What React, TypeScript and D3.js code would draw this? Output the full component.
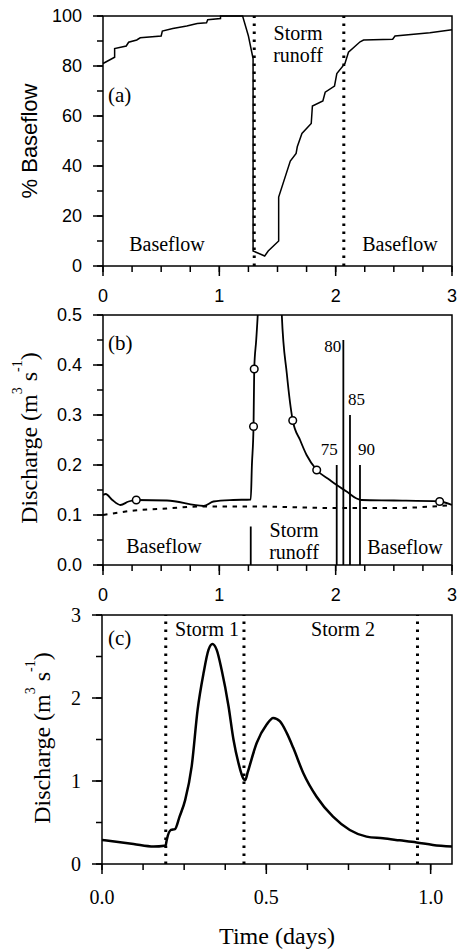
import React from "react";
import * as d3 from "d3";

const W = 457;
const H = 952;
const SERIF = '"Liberation Serif", "Times New Roman", serif';
const SANS = '"Liberation Sans", Arial, sans-serif';

// ---------- Panel (a): % baseflow ----------
const aTime = [0, 0.10, 0.10, 0.20, 0.22, 0.29, 0.32, 0.50, 0.51, 0.60, 0.72, 0.81, 0.89, 0.90, 1.01, 1.01, 1.20, 1.25, 1.29, 1.29, 1.39, 1.42, 1.51, 1.51, 1.61, 1.66, 1.67, 1.71, 1.79, 1.80, 1.89, 1.91, 1.99, 2.01, 2.08, 2.11, 2.21, 2.24, 2.49, 2.51, 2.81, 3.0];
const aPct = [81, 83.5, 87, 88, 89.5, 90.4, 91.3, 92, 94, 95, 96, 97, 97.3, 98.5, 99, 100, 100, 92, 83, 6, 4, 6, 10, 27.6, 42, 45, 47.7, 53, 57, 64, 66, 69.5, 72, 77, 81, 85.5, 89.7, 90.4, 90.7, 92, 93.3, 94.5];
const aBounds = [1.3, 2.07];
const aXTicks = [0, 1, 2, 3];
const aYTicks = [0, 20, 40, 60, 80, 100];

// ---------- Panel (b): discharge ----------
const bTime = [0, 0.023, 0.08, 0.15, 0.22, 0.286, 0.55, 0.866, 0.95, 1.12, 1.27, 1.28, 1.294, 1.30, 1.317, 1.33, 1.36, 1.43, 1.51, 1.537, 1.58, 1.631, 1.694, 1.75, 1.837, 1.95, 2.009, 2.094, 2.18, 2.223, 2.5, 2.894, 3.0];
const bQ = [0.14, 0.142, 0.13, 0.12, 0.127, 0.13, 0.129, 0.118, 0.127, 0.13, 0.131, 0.2, 0.277, 0.392, 0.45, 0.5, 0.7, 2.5, 0.7, 0.5, 0.383, 0.289, 0.25, 0.22, 0.19, 0.17, 0.16, 0.147, 0.133, 0.13, 0.129, 0.127, 0.12];
const bBaseTime = [0, 0.27, 0.55, 0.84, 1.3, 2.0, 2.5, 3.0];
const bBaseQ = [0.10, 0.109, 0.113, 0.117, 0.117, 0.114, 0.114, 0.12];
const bCircTime = [0.286, 1.294, 1.30, 1.631, 1.837, 2.894];
const bCircQ = [0.13, 0.277, 0.392, 0.289, 0.19, 0.127];
const bSampTime = [1.27, 2.009, 2.066, 2.123, 2.209];
const bSampQ = [0.077, 0.2, 0.45, 0.3, 0.2];
const bSampLabel = ["", "75", "80", "85", "90"];
const bXTicks = [0, 1, 2, 3];
const bYTicks = [0, 0.1, 0.2, 0.3, 0.4, 0.5];

// ---------- Panel (c): two storms ----------
const cTime = [0, 0.096, 0.157, 0.19, 0.194, 0.197, 0.21, 0.222, 0.236, 0.253, 0.273, 0.291, 0.309, 0.324, 0.336, 0.349, 0.364, 0.385, 0.4, 0.415, 0.43, 0.436, 0.443, 0.471, 0.501, 0.521, 0.541, 0.562, 0.582, 0.612, 0.653, 0.703, 0.754, 0.805, 0.855, 0.906, 0.957, 1.007, 1.065];
const cQ = [0.29, 0.24, 0.21, 0.22, 0.23, 0.29, 0.41, 0.42, 0.57, 0.77, 1.18, 1.86, 2.30, 2.58, 2.65, 2.58, 2.34, 1.90, 1.50, 1.22, 1.03, 1.01, 1.1, 1.46, 1.68, 1.76, 1.72, 1.58, 1.40, 1.10, 0.81, 0.57, 0.41, 0.33, 0.31, 0.285, 0.26, 0.23, 0.21];
const cBounds = [0.194, 0.432, 0.96];
const cXTicks = [0, 0.5, 1.0];
const cYTicks = [0, 1, 2, 3];

type Scale = d3.ScaleLinear<number, number>;

function range(a: number, b: number, s: number) {
  const out: number[] = [];
  for (let v = a; v <= b + 1e-9; v += s) out.push(+v.toFixed(6));
  return out;
}

function Frame({ x, y }: { x: Scale; y: Scale }) {
  const [x0, x1] = x.range();
  const [y0, y1] = y.range();
  return (
    <rect x={x0} y={y1} width={x1 - x0} height={y0 - y1} fill="none" stroke="#000" strokeWidth={1.5} />
  );
}

function XAxis({ x, y, major, minorStep, fmt, font, size, baseline }: any) {
  const y0 = y.range()[0];
  const [d0, d1] = x.domain();
  const minors = range(d0, d1, minorStep);
  return (
    <g>
      {minors.map((v: number, i: number) => (
        <line key={"m" + i} x1={x(v)} x2={x(v)} y1={y0} y2={y0 + 6} stroke="#000" strokeWidth={1.5} />
      ))}
      {major.map((v: number, i: number) => (
        <g key={"M" + i}>
          <line x1={x(v)} x2={x(v)} y1={y0} y2={y0 + 10} stroke="#000" strokeWidth={1.5} />
          <text x={x(v)} y={baseline} textAnchor="middle" fontFamily={font} fontSize={size} fill="#000">
            {fmt(v)}
          </text>
        </g>
      ))}
    </g>
  );
}

function YAxis({ x, y, major, minorStep, fmt, font, size }: any) {
  const x0 = x.range()[0];
  const [d0, d1] = y.domain();
  const minors = range(d0, d1, minorStep);
  return (
    <g>
      {minors.map((v: number, i: number) => (
        <line key={"m" + i} x1={x0 - 6} x2={x0} y1={y(v)} y2={y(v)} stroke="#000" strokeWidth={1.5} />
      ))}
      {major.map((v: number, i: number) => (
        <g key={"M" + i}>
          <line x1={x0 - 10} x2={x0} y1={y(v)} y2={y(v)} stroke="#000" strokeWidth={1.5} />
          <text x={x0 - 21} y={y(v)} dy="0.35em" textAnchor="end" fontFamily={font} fontSize={size} fill="#000">
            {fmt(v)}
          </text>
        </g>
      ))}
    </g>
  );
}

function DischargeLabel({ x, y }: { x: number; y: number }) {
  return (
    <text transform={`translate(${x},${y}) rotate(-90)`} textAnchor="middle" fontFamily={SERIF} fontSize={24} fill="#000">
      Discharge{"\u00a0"}
      <tspan>(m</tspan>
      <tspan dy={-15} fontSize={14}>3</tspan>
      <tspan dy={15}>{"\u00a0"}s</tspan>
      <tspan dy={-15} fontSize={14}>-1</tspan>
      <tspan dy={15}>)</tspan>
    </text>
  );
}

export default function App() {
  // panel a
  const ax = d3.scaleLinear().domain([0, 3]).range([103, 452]);
  const ay = d3.scaleLinear().domain([0, 100]).range([266, 16]);
  const aLine = d3.line<number>().x((_, i) => ax(aTime[i])).y((d) => ay(d));

  // panel b
  const bx = d3.scaleLinear().domain([0, 3]).range([103, 452]);
  const by = d3.scaleLinear().domain([0, 0.5]).range([565, 315]);
  const bLine = d3.line<number>().x((_, i) => bx(bTime[i])).y((d) => by(d)).curve(d3.curveMonotoneX);
  const bBase = d3.line<number>().x((_, i) => bx(bBaseTime[i])).y((d) => by(d)).curve(d3.curveMonotoneX);

  // panel c
  const cx = d3.scaleLinear().domain([0, 1.065]).range([102, 452]);
  const cy = d3.scaleLinear().domain([0, 3]).range([864, 615]);
  const cLine = d3.line<number>().x((_, i) => cx(cTime[i])).y((d) => cy(d)).curve(d3.curveMonotoneX);

  const labelPlace: Record<string, { anchor: string; dx: number; dy: number }> = {
    "75": { anchor: "end", dx: 1, dy: -10 },
    "80": { anchor: "end", dx: -2, dy: 12 },
    "85": { anchor: "start", dx: -2, dy: -10 },
    "90": { anchor: "start", dx: -2, dy: -10 },
  };

  return (
    <svg width={W} height={H} style={{ position: "absolute", left: 0, top: 0, background: "#fff" }}>
      <defs>
        <clipPath id="clipB">
          <rect x={103} y={315} width={349} height={250} />
        </clipPath>
      </defs>
      <rect width={W} height={H} fill="#fff" />

      {/* ---------- Panel a ---------- */}
      <g>
        {aBounds.map((t, i) => (
          <line key={i} x1={ax(t)} x2={ax(t)} y1={ay(0)} y2={ay(100)} stroke="#000" strokeWidth={3} strokeDasharray="2.5 5.5" />
        ))}
        <path d={aLine(aPct) || ""} fill="none" stroke="#000" strokeWidth={1.5} />
        <Frame x={ax} y={ay} />
        <XAxis x={ax} y={ay} major={aXTicks} minorStep={0.25} fmt={(v: number) => String(v)} font={SANS} size={18} baseline={302} />
        <YAxis x={ax} y={ay} major={aYTicks} minorStep={10} fmt={(v: number) => String(v)} font={SANS} size={18} />
        <text transform={`translate(37,141) rotate(-90)`} textAnchor="middle" fontFamily={SANS} fontSize={22} fill="#000">
          % Baseflow
        </text>
        <text x={108} y={102} fontFamily={SERIF} fontSize={21} fill="#000">(a)</text>
        <text x={298} y={40} textAnchor="middle" fontFamily={SERIF} fontSize={20} fill="#000">Storm</text>
        <text x={298} y={62} textAnchor="middle" fontFamily={SERIF} fontSize={20} fill="#000">runoff</text>
        <text x={167} y={251} textAnchor="middle" fontFamily={SERIF} fontSize={20} fill="#000">Baseflow</text>
        <text x={400} y={251} textAnchor="middle" fontFamily={SERIF} fontSize={20} fill="#000">Baseflow</text>
      </g>

      {/* ---------- Panel b ---------- */}
      <g>
        <path d={bBase(bBaseQ) || ""} fill="none" stroke="#000" strokeWidth={2} strokeDasharray="4.5 5.5" />
        <path d={bLine(bQ) || ""} fill="none" stroke="#000" strokeWidth={1.8} clipPath="url(#clipB)" />
        {bSampTime.map((t, i) => (
          <line key={i} x1={bx(t)} x2={bx(t)} y1={by(0)} y2={by(bSampQ[i])} stroke="#000" strokeWidth={1.8} />
        ))}
        {bSampTime.map((t, i) => {
          const lab = bSampLabel[i];
          if (!lab) return null;
          const p = labelPlace[lab];
          return (
            <text key={"l" + i} x={bx(t) + p.dx} y={by(bSampQ[i]) + p.dy} textAnchor={p.anchor as any} fontFamily={SERIF} fontSize={17} fill="#000">
              {lab}
            </text>
          );
        })}
        {bCircTime.map((t, i) => (
          <circle key={i} cx={bx(t)} cy={by(bCircQ[i])} r={3.8} fill="#fff" stroke="#000" strokeWidth={1.5} />
        ))}
        <Frame x={bx} y={by} />
        <XAxis x={bx} y={by} major={bXTicks} minorStep={0.25} fmt={(v: number) => String(v)} font={SANS} size={18} baseline={601} />
        <YAxis x={bx} y={by} major={bYTicks} minorStep={0.05} fmt={d3.format(".1f")} font={SANS} size={18} />
        <DischargeLabel x={37} y={438} />
        <text x={108} y={350} fontFamily={SERIF} fontSize={21} fill="#000">(b)</text>
        <text x={164} y={553} textAnchor="middle" fontFamily={SERIF} fontSize={20} fill="#000">Baseflow</text>
        <text x={294} y={537} textAnchor="middle" fontFamily={SERIF} fontSize={20} fill="#000">Storm</text>
        <text x={294} y={559} textAnchor="middle" fontFamily={SERIF} fontSize={20} fill="#000">runoff</text>
        <text x={405} y={554} textAnchor="middle" fontFamily={SERIF} fontSize={20} fill="#000">Baseflow</text>
      </g>

      {/* ---------- Panel c ---------- */}
      <g>
        {cBounds.map((t, i) => (
          <line key={i} x1={cx(t)} x2={cx(t)} y1={cy(0)} y2={cy(3)} stroke="#000" strokeWidth={3} strokeDasharray="2.5 5.5" />
        ))}
        <path d={cLine(cQ) || ""} fill="none" stroke="#000" strokeWidth={2.5} />
        <Frame x={cx} y={cy} />
        <XAxis x={cx} y={cy} major={cXTicks} minorStep={0.125} fmt={d3.format(".1f")} font={SERIF} size={20} baseline={904} />
        <YAxis x={cx} y={cy} major={cYTicks} minorStep={0.5} fmt={(v: number) => String(v)} font={SERIF} size={20} />
        <DischargeLabel x={50} y={738} />
        <text x={108} y={645} fontFamily={SERIF} fontSize={21} fill="#000">(c)</text>
        <text x={207} y={636} textAnchor="middle" fontFamily={SERIF} fontSize={20} fill="#000">Storm 1</text>
        <text x={343} y={636} textAnchor="middle" fontFamily={SERIF} fontSize={20} fill="#000">Storm 2</text>
        <text x={277} y={944} textAnchor="middle" fontFamily={SERIF} fontSize={24} fill="#000">Time (days)</text>
      </g>
    </svg>
  );
}
